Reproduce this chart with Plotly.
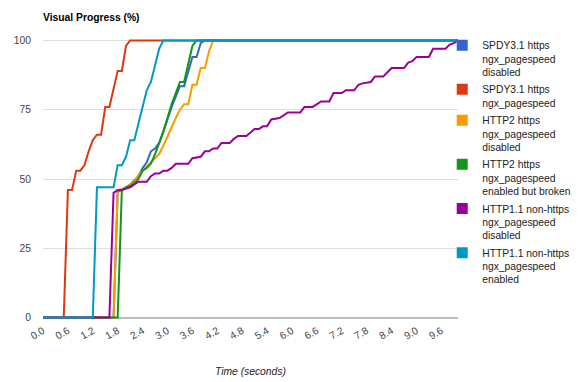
import plotly.graph_objects as go

# ---- data ----
series_names = [
    "SPDY3.1 https<br>ngx_pagespeed<br>disabled",
    "SPDY3.1 https<br>ngx_pagespeed",
    "HTTP2 https<br>ngx_pagespeed<br>disabled",
    "HTTP2 https<br>ngx_pagespeed<br>enabled but broken",
    "HTTP1.1 non-https<br>ngx_pagespeed<br>disabled",
    "HTTP1.1 non-https<br>ngx_pagespeed<br>enabled",
]
colors = ["#3366cc", "#dc3912", "#ff9900", "#109618", "#990099", "#0099c6"]

spdy_off_t = [0, 1.7, 1.8, 1.9, 2.0, 2.1, 2.2, 2.3, 2.4, 2.5, 2.6, 2.7, 2.8, 2.9, 3.0,
              3.1, 3.2, 3.3, 3.4, 3.5, 3.6, 3.7, 3.8, 3.9, 10.0]
spdy_off_v = [0, 0, 45.5, 46, 47, 48, 49.5, 51, 54, 56, 60, 61, 63, 67, 71.5,
              76, 80, 83.5, 83.5, 89, 94, 94, 99, 100, 100]

spdy_on_t = [0, 0.5, 0.6, 0.7, 0.8, 0.9, 1.0, 1.1, 1.2, 1.3, 1.4, 1.5, 1.6, 1.7, 1.8,
             1.9, 2.0, 2.1, 10.0]
spdy_on_v = [0, 0, 46, 46, 53, 53, 55, 60, 64, 66, 66, 76, 76, 82, 89,
             89, 98, 100, 100]

h2_off_t = [0, 1.7, 1.8, 1.9, 2.0, 2.1, 2.2, 2.3, 2.4, 2.5, 2.6, 2.7, 2.8, 2.9, 3.0,
            3.1, 3.2, 3.3, 3.4, 3.5, 3.6, 3.7, 3.8, 3.9, 4.0, 4.1, 10.0]
h2_off_v = [0, 0, 45.8, 46.3, 47, 48, 49, 51.5, 53, 54.5, 56, 57.5, 59, 62, 65.5,
            68.5, 72, 75, 77, 77, 84, 84, 90, 90, 96, 100, 100]

h2_on_t = [0, 1.8, 1.9, 2.0, 2.1, 2.2, 2.3, 2.4, 2.5, 2.6, 2.7, 2.8, 2.9, 3.0,
           3.1, 3.2, 3.3, 3.4, 3.5, 3.6, 3.7, 10.0]
h2_on_v = [0, 0, 46, 47, 47.5, 48.5, 50, 53, 54, 55.5, 59, 63, 67, 72,
           77, 81, 85, 85, 92, 98, 100, 100]

h11_off_t = [0, 1.6, 1.7, 1.8, 1.9, 2.0, 2.1, 2.2, 2.3, 2.5, 2.6, 2.7, 2.8, 2.9, 3.0,
             3.1, 3.2, 3.5, 3.6, 3.8, 3.9, 4.0, 4.1, 4.2, 4.3, 4.5, 4.6, 4.7, 4.9,
             5.1, 5.2, 5.3, 5.4, 5.5, 5.7, 5.9, 6.2, 6.3, 6.5, 6.7, 6.9, 7.0, 7.2,
             7.3, 7.5, 7.6, 7.7, 7.9, 8.0, 8.2, 8.4, 8.7, 8.8, 8.9, 9.0, 9.3, 9.4,
             9.7, 9.8, 9.9, 10.0]
h11_off_v = [0, 0, 45, 46, 46, 46.5, 47, 48, 49, 49, 51, 52, 52, 53, 53,
             54, 55.5, 55.5, 57.5, 58, 60, 60, 61, 61, 63, 63, 64.5, 65.5, 65.5,
             68, 68, 69, 69, 71.5, 72, 74, 74, 76, 76, 78, 78, 81, 81,
             82, 82, 84, 84.5, 85, 87, 87, 90, 90, 92, 92.5, 94, 94, 97,
             97, 98.5, 99, 100]

h11_on_t = [0, 1.2, 1.3, 1.4, 1.5, 1.6, 1.7, 1.8, 1.9, 2.0, 2.1, 2.2, 2.3, 2.4, 2.5,
            2.6, 2.7, 2.8, 2.9, 10.0]
h11_on_v = [0, 0, 47, 47, 47, 47, 47, 55, 55, 58, 64, 64, 70, 76, 82,
            85, 91, 97, 100, 100]

series_t = [spdy_off_t, spdy_on_t, h2_off_t, h2_on_t, h11_off_t, h11_on_t]
series_v = [spdy_off_v, spdy_on_v, h2_off_v, h2_on_v, h11_off_v, h11_on_v]

x_ticks = [0.0, 0.6, 1.2, 1.8, 2.4, 3.0, 3.6, 4.2, 4.8, 5.4, 6.0, 6.6, 7.2, 7.8,
           8.4, 9.0, 9.6]
y_ticks = [0, 25, 50, 75, 100]

FONT = "Liberation Sans, Arial, sans-serif"
FS = 10.3

W, H = 579, 382
PLOT_H = 280.8

fig = go.Figure()
for t, v, c in zip(series_t, series_v, colors):
    fig.add_trace(go.Scatter(x=t, y=v, mode="lines", line=dict(color=c, width=2),
                             showlegend=False, hoverinfo="skip"))
for i, (name, c) in enumerate(zip(series_names, colors)):
    fig.add_trace(go.Scatter(x=[None], y=[None], mode="markers", name=name,
                             legendgroup=f"g{i}",
                             marker=dict(symbol="square", size=11, color=c)))

fig.update_layout(
    width=W, height=H,
    margin=dict(l=43, r=121, t=38.6, b=62.6, pad=0, autoexpand=False),
    paper_bgcolor="white", plot_bgcolor="white",
    font=dict(family=FONT, size=FS, color="#222222"),
    title=dict(text="<b>Visual Progress (%)</b>", x=0, xref="paper",
               xanchor="left", y=1 - 17 / H, yref="container", yanchor="middle",
               font=dict(family=FONT, size=FS, color="#000000")),
    legend=dict(x=0.962, y=1.025, xanchor="left", yanchor="top", valign="top",
                maxheight=360, tracegroupgap=1,
                font=dict(family=FONT, size=FS, color="#222222"),
                bgcolor="rgba(0,0,0,0)", borderwidth=0),
    xaxis=dict(range=[0, 10], tickvals=x_ticks, tickformat=".1f", tickangle=-30,
               showgrid=False, zeroline=False, showline=False, ticks="",
               automargin=False, ticklabelstandoff=3,
               tickfont=dict(family=FONT, size=FS, color="#444444"),
               fixedrange=True),
    yaxis=dict(range=[-0.5, 100.5], tickvals=y_ticks, showgrid=True,
               gridcolor="#dddddd", gridwidth=1, zeroline=True,
               zerolinecolor="#bbbbbb", zerolinewidth=2, showline=False, ticks="",
               ticklabelstandoff=11, automargin=False,
               tickfont=dict(family=FONT, size=FS, color="#444444"),
               fixedrange=True),
    annotations=[dict(text="<i>Time (seconds)</i>", xref="paper", yref="paper",
                      x=0.5, y=(PLOT_H - 52.6) / PLOT_H - 1, xanchor="center",
                      yanchor="middle", showarrow=False,
                      font=dict(family=FONT, size=FS, color="#222222"))],
)

fig.write_html("out.html", config={"displayModeBar": False},
               post_script="document.body.style.margin='0px';")
